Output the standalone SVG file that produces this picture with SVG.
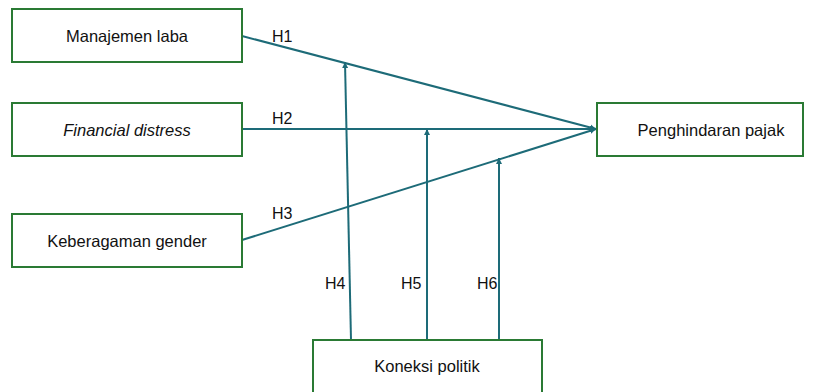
<svg xmlns="http://www.w3.org/2000/svg" width="815" height="392" viewBox="0 0 815 392">
<defs>
<style>
.box{fill:#fff;stroke:#2a7a34;stroke-width:2}
.t{font-family:"Liberation Sans",Arial,sans-serif;font-size:16.5px;fill:#111;text-anchor:middle;dominant-baseline:central}
.lbl{font-family:"Liberation Sans",Arial,sans-serif;font-size:16px;fill:#111}
.c{stroke:#1d6b78;stroke-width:2;fill:none}
</style>
<marker id="ah" markerWidth="8" markerHeight="8" refX="6" refY="3.5" orient="auto" markerUnits="userSpaceOnUse">
<path d="M0,0.5 L6,3.5 L0,6.5 Z" fill="#1d6b78"/>
</marker>
</defs>
<rect width="815" height="392" fill="#fff"/>
<g id="connectors">
<line class="c" x1="242" y1="36" x2="596" y2="129" marker-end="url(#ah)"/>
<line class="c" x1="242" y1="129" x2="596" y2="129" marker-end="url(#ah)"/>
<line class="c" x1="242" y1="240" x2="596" y2="129" marker-end="url(#ah)"/>
<line class="c" x1="351" y1="340" x2="345" y2="62" marker-end="url(#ah)"/>
<line class="c" x1="427" y1="340" x2="427" y2="129" marker-end="url(#ah)"/>
<line class="c" x1="499" y1="340" x2="499" y2="158" marker-end="url(#ah)"/>
<text class="lbl" x="272" y="42">H1</text>
<text class="lbl" x="272" y="124">H2</text>
<text class="lbl" x="272" y="219">H3</text>
<text class="lbl" x="325" y="289">H4</text>
<text class="lbl" x="401" y="289">H5</text>
<text class="lbl" x="477" y="289">H6</text>
</g>
<g id="manajemen">
<rect class="box" x="12" y="9" width="230" height="53"/>
<text class="t" x="127" y="36">Manajemen laba</text>
</g>
<g id="financial">
<rect class="box" x="12" y="103" width="230" height="53"/>
<text class="t" x="127" y="130" font-style="italic">Financial distress</text>
</g>
<g id="gender">
<rect class="box" x="12" y="214" width="230" height="53"/>
<text class="t" x="127" y="241">Keberagaman gender</text>
</g>
<g id="penghindaran">
<rect class="box" x="597" y="103" width="206" height="53"/>
<text class="t" x="711" y="130">Penghindaran pajak</text>
</g>
<g id="koneksi">
<rect class="box" x="313" y="340" width="229" height="60"/>
<text class="t" x="427" y="366">Koneksi politik</text>
</g>
</svg>
